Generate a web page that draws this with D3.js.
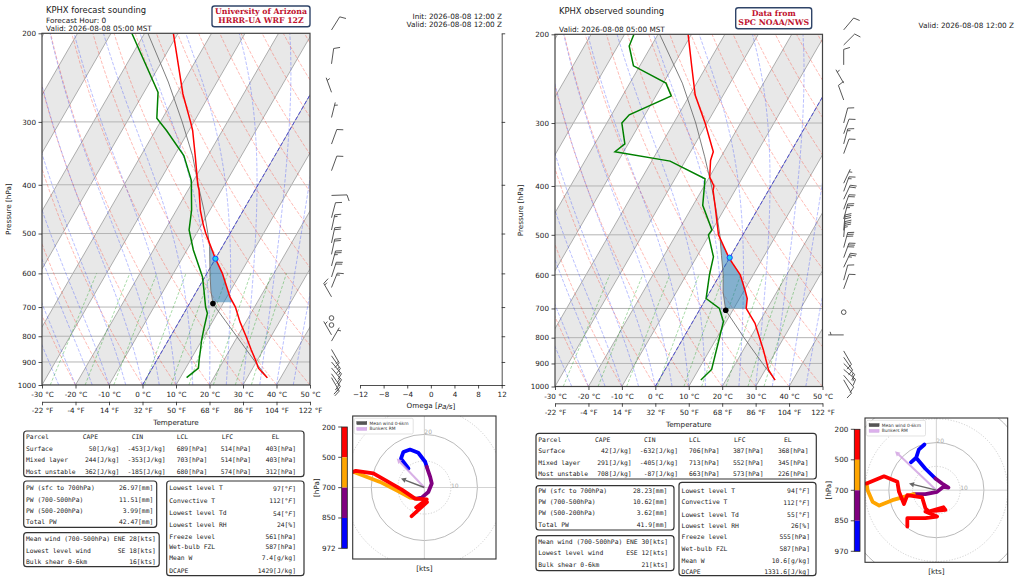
<!DOCTYPE html>
<html>
<head>
<meta charset="utf-8">
<script src="https://cdn.jsdelivr.net/npm/d3@7"></script>
<style>
  body { margin: 0; background: #fff; }
</style>
</head>
<body>
<svg id="chart" width="1024" height="580"></svg>
<script>
// ---------- axis ticks ----------
const pressureTicks = [200, 300, 400, 500, 600, 700, 800, 900, 1000];
const tempTicks = [-30, -20, -10, 0, 10, 20, 30, 40, 50];
const fahrLabels = ['-22 °F', '-4 °F', '14 °F', '32 °F', '50 °F', '68 °F', '86 °F', '104 °F', '122 °F'];
const omegaTicks = [-12, -8, -4, 0, 4, 8, 12];

// background reference lines
const dryAdiabatStarts = [-30, -20, -10, 0, 10, 20, 30, 40, 50, 60, 70, 80, 90, 100, 110, 120, 130, 140, 150];
const moistAdiabatStarts = [-30, -25, -20, -15, -10, -5, 0, 5, 10, 15, 20, 25, 30, 35, 40, 45, 50];
const mixingRatios = [0.0004, 0.001, 0.002, 0.004, 0.007, 0.01, 0.016, 0.024, 0.032];

// ---------- forecast sounding (HRRR) ----------
const fcstPres = [967, 950, 926, 900, 850, 800, 750, 700, 668, 600, 561, 500, 481, 450, 410, 400, 350, 312, 300, 264, 230, 200];
const fcstTemp = [36.0, 34.2, 31.7, 30.0, 26.3, 22.5, 18.3, 14.3, 10.9, 4.6, 0.0, -7.2, -9.4, -12.8, -16.7, -18.0, -23.8, -28.9, -31.0, -38.1, -44.7, -51.4];
const fcstDewpPres = [967, 926, 892, 850, 814, 772, 720, 700, 648, 610, 539, 492, 449, 392, 350, 312, 295, 262, 200];
const fcstDewp = [11.9, 13.8, 12.6, 11.2, 9.9, 8.6, 7.0, 5.4, 2.0, -0.7, -8.1, -12.8, -15.5, -20.7, -27.2, -36.7, -41.7, -45.8, -63.8];
const fcstParcelPres = [967, 900, 800, 700, 689, 650, 603, 531, 500, 450, 403, 350, 300, 250, 200];
const fcstParcelTemp = [36.0, 29.7, 19.7, 8.3, 7.0, 4.2, 1.1, -3.8, -6.6, -11.7, -17.5, -24.6, -33.5, -44.5, -59.0];
const fcstLcl = [689, 7.0];
const fcstFreeze = [561, 0.0];

const fcstBarbPres = [197, 230, 262, 294, 332, 375, 420, 465, 492, 522, 550, 580, 610, 640, 668, 736, 760, 795, 818, 850, 875, 900, 925, 950, 967];
const fcstBarbDir = [32, 8, 340, 14, 20, 20, 88, 15, 12, 12, 12, 15, 18, 22, 330, 0, 0, 330, 30, 150, 145, 140, 140, 145, 150];
const fcstBarbSpd = [10, 10, 5, 5, 10, 10, 10, 10, 15, 20, 20, 25, 20, 15, 15, 0, 0, 5, 5, 15, 15, 15, 20, 20, 20];

const fcstHodoU = [-6.0, -8.8, -7.9, -5.4, -2.3, 0.3, 0.9, 2.2, 2.8, 1.5, -1.0, -2.9, -5.4, -9.2, -16.7, -26.8, -25.8, -19.2, -8.5, -3.5, 0.9, -3.1, 1.0, -4.8];
const fcstHodoV = [7.2, 10.9, 13.4, 14.3, 13.1, 9.7, 7.8, 4.0, 1.5, -1.7, -3.8, -4.2, -3.8, -1.7, 2.1, 5.9, 6.3, 5.3, -0.8, -4.2, -4.5, -7.5, -5.5, -10.8];
const fcstHodoP = [967, 950, 930, 910, 890, 870, 855, 820, 790, 760, 730, 705, 680, 640, 580, 510, 480, 440, 400, 360, 320, 280, 240, 200];
const fcstMeanWind = [-8.8, 3.4];
const fcstBunkers = [-10.4, 10.9];
const fcstHodoLevels = [200, 500, 700, 850, 972];

// ---------- observed sounding (SPC) ----------
const obsPres = [971, 927, 846, 749, 700, 669, 644, 600, 557, 500, 440, 408, 400, 384, 356, 342, 300, 264, 232, 200];
const obsTemp = [34.7, 31.0, 26.0, 18.9, 13.7, 12.3, 10.2, 6.1, 0.0, -7.3, -13.1, -16.6, -17.1, -19.9, -22.5, -23.2, -30.6, -38.4, -44.3, -51.0];
const obsDewpPres = [971, 925, 744, 700, 669, 600, 553, 500, 489, 437, 408, 387, 357, 342, 330, 300, 289, 265, 250, 231, 211, 200];
const obsDewp = [12.5, 13.9, 9.2, 5.7, 0.0, -3.1, -5.0, -10.3, -10.1, -17.1, -19.3, -21.0, -34.5, -52.6, -51.0, -55.5, -54.7, -45.4, -49.2, -61.9, -66.6, -67.2];
const obsParcelPres = [971, 900, 800, 706, 650, 600, 550, 500, 450, 400, 350, 300, 250, 200];
const obsParcelTemp = [34.7, 28.1, 18.1, 7.9, 4.0, 1.0, -2.8, -6.9, -11.9, -17.8, -24.9, -33.4, -44.3, -59.5];
const obsLcl = [706, 7.9];
const obsFreeze = [555, 0.0];

const obsBarbPres = [196, 210, 230, 250, 270, 300, 315, 330, 345, 395, 410, 425, 445, 465, 490, 505, 530, 555, 580, 615, 640, 712, 790, 850, 875, 900, 925, 950, 970];
const obsBarbDir = [40, 45, 0, 330, 340, 15, 20, 15, 20, 25, 20, 25, 20, 15, 5, 5, 15, 20, 25, 15, 20, 0, 270, 150, 145, 135, 130, 140, 150];
const obsBarbSpd = [10, 10, 10, 5, 10, 10, 10, 15, 10, 5, 15, 20, 20, 25, 30, 35, 30, 30, 25, 10, 10, 0, 5, 10, 12, 15, 15, 12, 10];

const obsHodoU = [-10.7, -8.5, -7.4, -5.0, -7.4, -8.5, -4.6, -0.4, 2.4, 5.1, 3.0, 0.3, -4.6, -9.5, -18.5, -24.0, -26.8, -28.9, -29.3, -22.0, -16.4, -15.7, -13.6, -12.2, -9.5, -6.0, -4.6, -3.2, 3.0, 3.8, -4.6, 0.3, -4.6, -12.2, -12.2];
const obsHodoV = [11.7, 13.6, 17.0, 19.2, 17.0, 13.6, 9.0, 4.9, 2.8, 1.1, 1.4, -0.7, -1.7, -1.7, -4.2, -6.5, -4.9, 0.0, 2.8, 5.8, 3.5, -0.7, -5.8, -2.1, -2.5, -3.0, -7.6, -9.0, -7.2, -8.3, -9.0, -11.1, -11.8, -11.8, -15.3];
const obsHodoP = [970, 955, 940, 925, 910, 895, 875, 855, 830, 800, 775, 750, 725, 705, 660, 620, 580, 540, 505, 490, 470, 450, 430, 410, 390, 370, 350, 330, 310, 290, 270, 250, 230, 215, 200];
const obsMeanWind = [-11.5, 2.8];
const obsBunkers = [-17.4, 16.4];
const obsHodoLevels = [200, 500, 700, 850, 970];

const hodoColors = ['red', 'orange', 'purple', 'blue'];
const hodoRings = [10, 20, 30, 40];

// ---------- tables ----------
const parcelHeader = ['Parcel', 'CAPE', 'CIN', 'LCL', 'LFC', 'EL'];
const fcstParcelRows = [
  ['Surface', '50[J/kg]', '-453[J/kg]', '689[hPa]', '514[hPa]', '403[hPa]'],
  ['Mixed layer', '244[J/kg]', '-353[J/kg]', '703[hPa]', '514[hPa]', '403[hPa]'],
  ['Most unstable', '362[J/kg]', '-185[J/kg]', '680[hPa]', '574[hPa]', '312[hPa]']
];
const fcstPwRows = [['PW (sfc to 700hPa)', '26.97[mm]'], ['PW (700-500hPa)', '11.51[mm]'], ['PW (500-200hPa)', '3.99[mm]'], ['Total PW', '42.47[mm]']];
const fcstWindRows = [['Mean wind (700-500hPa)', 'ENE', '28[kts]'], ['Lowest level wind', 'SE', '18[kts]'], ['Bulk shear 0-6km', '', '16[kts]']];
const fcstIndexRows = [['Lowest level T', '97[°F]'], ['Convective T', '112[°F]'], ['Lowest level Td', '54[°F]'], ['Lowest level RH', '24[%]'],
  ['Freeze level', '561[hPa]'], ['Wet-bulb FZL', '587[hPa]'], ['Mean W', '7.4[g/kg]'], ['DCAPE', '1429[J/kg]']];

const obsParcelRows = [
  ['Surface', '42[J/kg]', '-632[J/kg]', '706[hPa]', '387[hPa]', '368[hPa]'],
  ['Mixed layer', '291[J/kg]', '-405[J/kg]', '713[hPa]', '552[hPa]', '345[hPa]'],
  ['Most unstable', '708[J/kg]', '-87[J/kg]', '663[hPa]', '573[hPa]', '226[hPa]']
];
const obsPwRows = [['PW (sfc to 700hPa)', '28.23[mm]'], ['PW (700-500hPa)', '10.62[mm]'], ['PW (500-200hPa)', '3.62[mm]'], ['Total PW', '41.9[mm]']];
const obsWindRows = [['Mean wind (700-500hPa)', 'ENE', '30[kts]'], ['Lowest level wind', 'ESE', '12[kts]'], ['Bulk shear 0-6km', '', '21[kts]']];
const obsIndexRows = [['Lowest level T', '94[°F]'], ['Convective T', '112[°F]'], ['Lowest level Td', '55[°F]'], ['Lowest level RH', '26[%]'],
  ['Freeze level', '555[hPa]'], ['Wet-bulb FZL', '587[hPa]'], ['Mean W', '10.6[g/kg]'], ['DCAPE', '1331.6[J/kg]']];

// ---------- setup ----------
const svg = d3.select('#chart').attr('font-family', 'DejaVu Sans, sans-serif');
const TAN30 = Math.tan(Math.PI / 6);
const INK = '#1a1a1a';
const MONO = 'DejaVu Sans Mono, monospace';
const lineLevels = d3.range(1000, 199, -10);

function zip(pres, vals) {
  return pres.map((p, i) => ({ p: p, t: vals[i] }));
}

function interpLogP(pres, vals, p) {
  for (let i = 0; i < pres.length - 1; i++) {
    if (p <= pres[i] && p >= pres[i + 1]) {
      const f = (Math.log(pres[i]) - Math.log(p)) / (Math.log(pres[i]) - Math.log(pres[i + 1]));
      return vals[i] + f * (vals[i + 1] - vals[i]);
    }
  }
  return NaN;
}

function moistLapse(tK, p) {
  const Rd = 287.04, Cp = 1005.7, Lv = 2.501e6, eps = 0.622;
  const tc = tK - 273.15;
  const es = 6.112 * Math.exp(17.67 * tc / (tc + 243.5));
  const rs = eps * es / (p - es);
  return (Rd * tK + Lv * rs) / (Cp + (Lv * Lv * rs * eps) / (Rd * tK * tK)) / p;
}

function moistAdiabat(t0) {
  const pts = [];
  let t = t0 + 273.15;
  lineLevels.forEach(p => {
    pts.push({ p: p, t: t - 273.15 });
    const h = -10;
    const k1 = moistLapse(t, p);
    const k2 = moistLapse(t + h * k1 / 2, p + h / 2);
    const k3 = moistLapse(t + h * k2 / 2, p + h / 2);
    const k4 = moistLapse(t + h * k3, p + h);
    t += h * (k1 + 2 * k2 + 2 * k3 + k4) / 6;
  });
  return pts;
}

function text(g, x, y, str, size, anchor) {
  return g.append('text')
    .attr('x', x)
    .attr('y', y)
    .attr('font-size', size)
    .attr('fill', INK)
    .attr('text-anchor', anchor || 'start')
    .attr('dominant-baseline', 'central')
    .text(str);
}

// ---------- wind barbs ----------
function drawBarbs(g, bx, y, pres, dirs, spds) {
  const L = 15.5, spacing = 0.125 * L, fh = 0.4 * L, fw = 0.25 * L;
  pres.forEach((p, i) => {
    const by = y(p);
    const s = Math.round(spds[i] / 5) * 5;
    if (s === 0) {
      g.append('circle')
        .attr('cx', bx)
        .attr('cy', by)
        .attr('r', 0.15 * L)
        .attr('fill', 'none')
        .attr('stroke', '#444')
        .attr('stroke-width', 0.9);
      return;
    }
    const a = dirs[i] * Math.PI / 180;
    const ux = Math.sin(a), uy = -Math.cos(a);
    const px = Math.cos(a), py = Math.sin(a);
    const at = (o, h) => [bx + ux * o + px * h, by + uy * o + py * h];
    const path = d3.path();
    path.moveTo(...at(0, 0));
    path.lineTo(...at(L, 0));
    let offset = L;
    const nfull = Math.floor(s / 10);
    const half = s % 10 >= 5;
    for (let k = 0; k < nfull; k++) {
      path.moveTo(...at(offset, 0));
      path.lineTo(...at(offset + fw / 2, fh));
      offset -= spacing;
    }
    if (half) {
      if (offset === L) offset -= 1.5 * spacing;
      path.moveTo(...at(offset, 0));
      path.lineTo(...at(offset + fw / 4, fh / 2));
    }
    g.append('path')
      .attr('d', path.toString())
      .attr('fill', 'none')
      .attr('stroke', '#444')
      .attr('stroke-width', 0.9);
  });
}

// ---------- skew-T panel ----------
function drawSkewT(cfg, snd) {
  const x = d3.scaleLinear().domain([-30, 50]).range([cfg.x0, cfg.x1]);
  const y = d3.scaleLog().domain([1000, 200]).range([cfg.yBot, cfg.yTop]);
  const sx = (t, p) => x(t) + (cfg.yBot - y(p)) * TAN30;
  const line = d3.line().x(d => sx(d.t, d.p)).y(d => y(d.p));
  const dx = (cfg.yBot - cfg.yTop) * TAN30;

  svg.append('clipPath')
    .attr('id', 'clip-' + cfg.id)
    .append('rect')
    .attr('x', cfg.x0)
    .attr('y', cfg.yTop)
    .attr('width', cfg.x1 - cfg.x0)
    .attr('height', cfg.yBot - cfg.yTop);

  const plot = svg.append('g').attr('clip-path', 'url(#clip-' + cfg.id + ')');

  // alternating isotherm bands
  d3.range(-120, 50, 20).forEach(t => {
    plot.append('path')
      .attr('d', 'M' + x(t) + ',' + cfg.yBot + 'L' + x(t + 10) + ',' + cfg.yBot +
        'L' + (x(t + 10) + dx) + ',' + cfg.yTop + 'L' + (x(t) + dx) + ',' + cfg.yTop + 'Z')
      .attr('fill', '#e8e8e8');
  });

  // isotherms (skewed x grid)
  d3.range(-120, 51, 10).forEach(t => {
    plot.append('line')
      .attr('x1', x(t)).attr('y1', cfg.yBot)
      .attr('x2', x(t) + dx).attr('y2', cfg.yTop)
      .attr('stroke', '#9a9a9a')
      .attr('stroke-width', 0.8);
  });

  // pressure grid
  pressureTicks.forEach(p => {
    plot.append('line')
      .attr('x1', cfg.x0).attr('x2', cfg.x1)
      .attr('y1', y(p)).attr('y2', y(p))
      .attr('stroke', '#b4b4b4')
      .attr('stroke-width', 1);
  });

  // dry adiabats
  dryAdiabatStarts.forEach(t0 => {
    const pts = lineLevels.map(p => ({ p: p, t: (t0 + 273.15) * Math.pow(p / 1000, 0.2857) - 273.15 }));
    plot.append('path')
      .attr('d', line(pts))
      .attr('fill', 'none')
      .attr('stroke', 'rgba(255,60,40,0.38)')
      .attr('stroke-width', 0.9)
      .attr('stroke-dasharray', '3.5,1.6');
  });

  // moist adiabats
  moistAdiabatStarts.forEach(t0 => {
    plot.append('path')
      .attr('d', line(moistAdiabat(t0)))
      .attr('fill', 'none')
      .attr('stroke', 'rgba(40,60,255,0.36)')
      .attr('stroke-width', 0.9)
      .attr('stroke-dasharray', '3.5,1.6');
  });

  // mixing ratio lines
  mixingRatios.forEach(w => {
    const pts = d3.range(1000, 599, -20).map(p => {
      const e = p * w / (0.622 + w);
      const l = Math.log(e / 6.112);
      return { p: p, t: 243.5 * l / (17.67 - l) };
    });
    plot.append('path')
      .attr('d', line(pts))
      .attr('fill', 'none')
      .attr('stroke', 'rgba(0,150,0,0.38)')
      .attr('stroke-width', 0.9)
      .attr('stroke-dasharray', '3,1.8');
  });

  // 0 degC isotherm
  plot.append('path')
    .attr('d', line([{ p: 1000, t: 0 }, { p: 200, t: 0 }]))
    .attr('stroke', '#4b4bd6')
    .attr('stroke-width', 1)
    .attr('stroke-dasharray', '4,2');

  // CIN shading between parcel and environment
  const shade = [];
  for (let p = cfg.shadeBottom; p > 400; p -= 1) {
    const te = interpLogP(snd.pres, snd.temp, p);
    const tp = interpLogP(snd.parcelPres, snd.parcelTemp, p);
    shade.push({ p: p, te: te, tp: Math.min(tp, te) });
    if (te <= tp) break;
  }
  plot.append('path')
    .attr('d', d3.area().x0(d => sx(d.tp, d.p)).x1(d => sx(d.te, d.p)).y(d => y(d.p))(shade))
    .attr('fill', 'rgba(31,119,180,0.5)');

  // parcel, temperature, dewpoint
  plot.append('path')
    .attr('d', line(zip(snd.parcelPres, snd.parcelTemp)))
    .attr('fill', 'none')
    .attr('stroke', '#6f6f6f')
    .attr('stroke-width', 0.9);
  plot.append('path')
    .attr('d', line(zip(snd.pres, snd.temp)))
    .attr('fill', 'none')
    .attr('stroke', '#ff0000')
    .attr('stroke-width', 1.5);
  plot.append('path')
    .attr('d', line(zip(snd.dewpPres, snd.dewp)))
    .attr('fill', 'none')
    .attr('stroke', '#008000')
    .attr('stroke-width', 1.5);

  // LCL and freezing level markers
  plot.append('circle')
    .attr('cx', sx(snd.lcl[1], snd.lcl[0]))
    .attr('cy', y(snd.lcl[0]))
    .attr('r', 2.8)
    .attr('fill', '#000');
  plot.append('circle')
    .attr('cx', sx(snd.freeze[1], snd.freeze[0]))
    .attr('cy', y(snd.freeze[0]))
    .attr('r', 2.6)
    .attr('fill', '#19d3f0')
    .attr('stroke', '#2040ff')
    .attr('stroke-width', 1);

  // frame
  svg.append('rect')
    .attr('x', cfg.x0).attr('y', cfg.yTop)
    .attr('width', cfg.x1 - cfg.x0).attr('height', cfg.yBot - cfg.yTop)
    .attr('fill', 'none')
    .attr('stroke', '#444')
    .attr('stroke-width', 1.2);

  // axes
  const yAxis = svg.append('g')
    .attr('transform', 'translate(' + cfg.x0 + ',0)')
    .call(d3.axisLeft(y).tickValues(pressureTicks).tickFormat(d3.format('d')).tickSize(3.5).tickPadding(2.5));
  const xAxis = svg.append('g')
    .attr('transform', 'translate(0,' + cfg.yBot + ')')
    .call(d3.axisBottom(x).tickValues(tempTicks).tickFormat(d => d + ' °C').tickSize(3.5).tickPadding(3.5));
  const fAxis = svg.append('g')
    .attr('transform', 'translate(0,' + (cfg.yBot + 16.8) + ')')
    .call(d3.axisBottom(x).tickValues(tempTicks).tickFormat((d, i) => fahrLabels[i]).tickSize(3.5).tickSizeOuter(0).tickPadding(3));
  [yAxis, xAxis].forEach(a => a.select('.domain').remove());
  [yAxis, xAxis, fAxis].forEach(a => {
    a.attr('font-family', 'DejaVu Sans, sans-serif').attr('font-size', 7.2);
    a.selectAll('line, path').attr('stroke', '#222').attr('stroke-width', 0.8);
    a.selectAll('text').attr('fill', INK);
  });

  text(svg, (cfg.x0 + cfg.x1) / 2, cfg.yBot + 37.5, 'Temperature', 7.2, 'middle');
  text(svg, 0, 0, 'Pressure [hPa]', 7.2, 'middle')
    .attr('transform', 'translate(' + cfg.ylabelX + ',' + ((cfg.yTop + cfg.yBot) / 2) + ') rotate(-90)');

  // wind barbs
  drawBarbs(svg.append('g'), cfg.barbX, y, snd.barbPres, snd.barbDir, snd.barbSpd);

  // titles
  text(svg, cfg.titleX, cfg.titleY, cfg.title, 8.4);
  cfg.subtitles.forEach(s => text(svg, cfg.titleX, s[1], s[0], 7.3));
  cfg.rightNotes.forEach(s => text(svg, cfg.noteX, s[1], s[0], 7.3, 'end'));

  // credit box
  const b = cfg.credit;
  svg.append('rect')
    .attr('x', b.x).attr('y', b.y).attr('width', b.w).attr('height', b.h)
    .attr('rx', 2.5)
    .attr('fill', '#fff')
    .attr('stroke', '#2f4468')
    .attr('stroke-width', 1.4);
  b.lines.forEach((s, i) => {
    text(svg, b.x + b.w / 2, b.y + 5.8 + i * 8.9, s, 7.8, 'middle')
      .attr('font-family', 'DejaVu Serif, serif')
      .attr('font-weight', 'bold')
      .attr('fill', '#c0112e');
  });

  return y;
}

// ---------- omega panel (forecast only) ----------
function drawOmega(yP) {
  const x = d3.scaleLinear().domain([-12, 12]).range([360, 501.7]);
  const bottom = svg.append('g')
    .attr('transform', 'translate(0,385)')
    .call(d3.axisBottom(x).tickValues(omegaTicks).tickFormat(d => (d < 0 ? '\u2212' : '') + Math.abs(d)).tickSize(3.5).tickSizeOuter(0).tickPadding(3));
  const right = svg.append('g')
    .attr('transform', 'translate(501.7,0)')
    .call(d3.axisRight(yP).tickValues(pressureTicks).tickFormat('').tickSize(3.5).tickSizeOuter(0));
  [bottom, right].forEach(a => {
    a.attr('font-family', 'DejaVu Sans, sans-serif').attr('font-size', 7.2);
    a.selectAll('line, path').attr('stroke', '#222').attr('stroke-width', 0.8);
    a.selectAll('text').attr('fill', INK);
  });
  const lab = text(svg, 431, 405.5, 'Omega [', 7.2, 'middle');
  lab.append('tspan').attr('font-style', 'italic').text('Pa/s');
  lab.append('tspan').text(']');
}

// ---------- hodograph ----------
function drawHodo(h, hd) {
  const k = (h.x1 - h.x0) / (2 * h.range);
  const cyMid = (h.y0 + h.y1) / 2;
  const u = d3.scaleLinear().domain([-h.range, h.range]).range([h.x0, h.x1]);
  const v = d3.scaleLinear().domain([-h.range, h.range]).range([cyMid + h.range * k, cyMid - h.range * k]);
  const cx = u(0), cy = v(0);

  svg.append('clipPath')
    .attr('id', 'hclip-' + h.id)
    .append('rect')
    .attr('x', h.x0).attr('y', h.y0)
    .attr('width', h.x1 - h.x0).attr('height', h.y1 - h.y0);
  const g = svg.append('g').attr('clip-path', 'url(#hclip-' + h.id + ')');

  hodoRings.forEach(r => {
    g.append('circle')
      .attr('cx', cx).attr('cy', cy).attr('r', r * k)
      .attr('fill', 'none')
      .attr('stroke', r % 20 ? '#c4c4c4' : '#a8a8a8')
      .attr('stroke-width', 0.8)
      .attr('stroke-dasharray', r % 20 ? '1.2,1.6' : null);
  });
  g.append('line').attr('x1', h.x0).attr('x2', h.x1).attr('y1', cy).attr('y2', cy).attr('stroke', '#c8c8c8').attr('stroke-width', 0.8);
  g.append('line').attr('x1', cx).attr('x2', cx).attr('y1', h.y0).attr('y2', h.y1).attr('stroke', '#c8c8c8').attr('stroke-width', 0.8);
  text(g, cx + 10 * k, cy - 2.5, '10', 6, 'start').attr('fill', '#aaa');
  text(g, cx, cy - 20 * k - 2.5, '20', 6, 'start').attr('fill', '#aaa');

  // trace coloured by pressure layer
  const bin = p => p > 850 ? 3 : p > 700 ? 2 : p > 500 ? 1 : 0;
  const groups = [];
  hd.p.forEach((p, i) => {
    const pt = [u(hd.u[i]), v(hd.v[i])];
    const last = groups[groups.length - 1];
    if (!last || last.bin !== bin(p)) {
      const start = last ? [last.pts[last.pts.length - 1]] : [];
      groups.push({ bin: bin(p), pts: start.concat([pt]) });
    } else {
      last.pts.push(pt);
    }
  });
  groups.forEach(gr => {
    g.append('path')
      .attr('d', d3.line()(gr.pts))
      .attr('fill', 'none')
      .attr('stroke', hodoColors[gr.bin])
      .attr('stroke-width', 3.8)
      .attr('stroke-linejoin', 'round')
      .attr('stroke-linecap', 'round');
  });

  // arrows from the origin
  const arrow = (vec, color, w, op) => {
    const x2 = u(vec[0]), y2 = v(vec[1]);
    const ang = Math.atan2(y2 - cy, x2 - cx);
    const hl = 5, hw = 2.6;
    const bx = x2 - Math.cos(ang) * hl, by = y2 - Math.sin(ang) * hl;
    g.append('line')
      .attr('x1', cx).attr('y1', cy).attr('x2', bx).attr('y2', by)
      .attr('stroke', color).attr('stroke-width', w).attr('opacity', op);
    g.append('path')
      .attr('d', 'M' + x2 + ',' + y2 + 'L' + (bx - Math.sin(ang) * hw) + ',' + (by + Math.cos(ang) * hw) +
        'L' + (bx + Math.sin(ang) * hw) + ',' + (by - Math.cos(ang) * hw) + 'Z')
      .attr('fill', color).attr('opacity', op);
  };
  arrow(hd.bunkers, '#cf9ee0', 2, 0.8);
  arrow(hd.mean, '#555', 1.4, 0.9);

  // legend
  const lg = svg.append('g').attr('transform', 'translate(' + (h.x0 + 1.5) + ',' + (h.y0 + 2.3) + ')');
  lg.append('rect').attr('width', 59).attr('height', 15.7).attr('rx', 1.5)
    .attr('fill', 'rgba(255,255,255,0.85)').attr('stroke', '#d0d0d0').attr('stroke-width', 0.6);
  [['Mean wind 0-6km', '#555'], ['Bunkers RM', '#dcb0ec']].forEach((e, i) => {
    lg.append('rect').attr('x', 2.6).attr('y', 3.3 + i * 5.8).attr('width', 10).attr('height', 3)
      .attr('fill', e[1]).attr('stroke', i ? '#c9a0dc' : '#333').attr('stroke-width', 0.4);
    text(lg, 15.3, 4.8 + i * 5.8, e[0], 4.4).attr('fill', '#333');
  });

  svg.append('rect')
    .attr('x', h.x0).attr('y', h.y0)
    .attr('width', h.x1 - h.x0).attr('height', h.y1 - h.y0)
    .attr('fill', 'none')
    .attr('stroke', '#333')
    .attr('stroke-width', 1.1);
  text(svg, cx, h.y1 + 9, '[kts]', 7.2, 'middle');

  // pressure colour bar
  const cb = d3.scaleLinear().domain([0, 4]).range([h.cbTop, h.cbBot]);
  hodoColors.forEach((c, i) => {
    svg.append('rect')
      .attr('x', h.cbX).attr('y', cb(i))
      .attr('width', h.cbW).attr('height', cb(i + 1) - cb(i))
      .attr('fill', c);
  });
  svg.append('rect')
    .attr('x', h.cbX).attr('y', h.cbTop)
    .attr('width', h.cbW).attr('height', h.cbBot - h.cbTop)
    .attr('fill', 'none').attr('stroke', '#222').attr('stroke-width', 0.8);
  hd.levels.forEach((lv, i) => {
    svg.append('line')
      .attr('x1', h.cbX - 3.5).attr('x2', h.cbX)
      .attr('y1', cb(i)).attr('y2', cb(i))
      .attr('stroke', '#222').attr('stroke-width', 0.8);
    text(svg, h.cbX - 6, cb(i), lv, 7.2, 'end');
  });
  text(svg, 0, 0, '[hPa]', 7.2, 'middle')
    .attr('transform', 'translate(' + h.hpaX + ',' + ((h.cbTop + h.cbBot) / 2) + ') rotate(-90)');
}

// ---------- text tables ----------
function box(x, y, w, h) {
  svg.append('rect')
    .attr('x', x).attr('y', y).attr('width', w).attr('height', h)
    .attr('rx', 3)
    .attr('fill', '#fff')
    .attr('stroke', '#333')
    .attr('stroke-width', 1.2);
}

function mono(x, y, str, anchor) {
  const t = text(svg, x, y, '', 6.35, anchor).attr('font-family', MONO);
  const m = /^(.*\[)°F(\])$/.exec(str);
  if (m) {
    t.append('tspan').text(m[1] + '°');
    t.append('tspan').attr('font-style', 'italic').text('F');
    t.append('tspan').text(']');
  } else {
    t.text(str);
  }
  return t;
}

function drawTables(t, rows) {
  const p = t.parcel;
  box(p.x, p.y, 280.3, p.h);
  const hdrX = [2.3, 59, 108, 153, 198, 248];
  const valX = [95.6, 142, 183.6, 227.5, 272.5];
  parcelHeader.forEach((s, i) => mono(p.x + hdrX[i], p.rows[0], s, 'start'));
  rows.parcel.forEach((r, j) => {
    mono(p.x + 2.3, p.rows[j + 1], r[0], 'start');
    r.slice(1).forEach((s, i) => mono(p.x + valX[i], p.rows[j + 1], s, 'end'));
  });

  const pw = t.pw;
  box(pw.x, pw.y, pw.w, pw.h);
  rows.pw.forEach((r, j) => {
    mono(pw.x + 2.3, pw.rows[j], r[0], 'start');
    mono(pw.valX, pw.rows[j], r[1], 'end');
  });

  const wd = t.wind;
  box(wd.x, wd.y, wd.w, wd.h);
  rows.wind.forEach((r, j) => {
    mono(wd.x + 2.3, wd.rows[j], r[0], 'start');
    mono(wd.dirX, wd.rows[j], r[1], 'end');
    mono(wd.valX, wd.rows[j], r[2], 'end');
  });

  const ix = t.index;
  box(ix.x, ix.y, ix.w, ix.h);
  rows.index.forEach((r, j) => {
    mono(ix.x + 2.6, ix.rows[j], r[0], 'start');
    mono(ix.valX, ix.rows[j], r[1], 'end');
  });
}

// ---------- build ----------
const fcstY = drawSkewT({
  id: 'f', x0: 42, x1: 310, yTop: 33.3, yBot: 385, barbX: 331.5, ylabelX: 8, shadeBottom: 685,
  title: 'KPHX forecast sounding', titleX: 46, titleY: 10,
  subtitles: [['Forecast Hour: 0', 20], ['Valid: 2026-08-08 05:00 MST', 28]],
  noteX: 502, rightNotes: [['Init: 2026-08-08 12:00 Z', 16], ['Valid: 2026-08-08 12:00 Z', 24.3]],
  credit: { x: 212, y: 6, w: 98, h: 20.7, lines: ['University of Arizona', 'HRRR-UA WRF 12Z'] }
}, {
  pres: fcstPres, temp: fcstTemp, dewpPres: fcstDewpPres, dewp: fcstDewp,
  parcelPres: fcstParcelPres, parcelTemp: fcstParcelTemp, lcl: fcstLcl, freeze: fcstFreeze,
  barbPres: fcstBarbPres, barbDir: fcstBarbDir, barbSpd: fcstBarbSpd
});
drawOmega(fcstY);

drawSkewT({
  id: 'o', x0: 555, x1: 822.5, yTop: 34.3, yBot: 386.5, barbX: 843.7, ylabelX: 520, shadeBottom: 700,
  title: 'KPHX observed sounding', titleX: 559, titleY: 11,
  subtitles: [['Valid: 2026-08-08 05:00 MST', 29.3]],
  noteX: 1014, rightNotes: [['Valid: 2026-08-08 12:00 Z', 25]],
  credit: { x: 735.7, y: 7.7, w: 76, h: 21, lines: ['Data from', 'SPC NOAA/NWS'] }
}, {
  pres: obsPres, temp: obsTemp, dewpPres: obsDewpPres, dewp: obsDewp,
  parcelPres: obsParcelPres, parcelTemp: obsParcelTemp, lcl: obsLcl, freeze: obsFreeze,
  barbPres: obsBarbPres, barbDir: obsBarbDir, barbSpd: obsBarbSpd
});

drawHodo({ id: 'f', x0: 352.7, x1: 496, y0: 416, y1: 559, range: 27, cbX: 341.7, cbW: 5.6, cbTop: 427, cbBot: 548.3, hpaX: 316 },
  { u: fcstHodoU, v: fcstHodoV, p: fcstHodoP, mean: fcstMeanWind, bunkers: fcstBunkers, levels: fcstHodoLevels });
drawHodo({ id: 'o', x0: 865, x1: 1007.7, y0: 418, y1: 562.3, range: 30, cbX: 854.3, cbW: 5.7, cbTop: 429.3, cbBot: 551.3, hpaX: 828.5 },
  { u: obsHodoU, v: obsHodoV, p: obsHodoP, mean: obsMeanWind, bunkers: obsBunkers, levels: obsHodoLevels });

drawTables({
  parcel: { x: 23.7, y: 431, h: 45.7, rows: [436, 448, 459.3, 471.3] },
  pw: { x: 23.7, y: 481, w: 133, h: 46.3, valX: 153.3, rows: [487.7, 499.3, 510, 521.7] },
  wind: { x: 23.7, y: 532.7, w: 135.5, h: 34, dirX: 125.3, valX: 155.9, rows: [538.3, 550, 561.7] },
  index: { x: 166.7, y: 481, w: 137.3, h: 94.7, valX: 296, rows: [487.7, 500, 512.7, 524.3, 536, 546.7, 557.7, 570] }
}, { parcel: fcstParcelRows, pw: fcstPwRows, wind: fcstWindRows, index: fcstIndexRows });

drawTables({
  parcel: { x: 536, y: 433.3, h: 45.7, rows: [439, 450.7, 462.3, 473.3] },
  pw: { x: 536, y: 485.7, w: 138, h: 44.3, valX: 667.3, rows: [490.7, 501, 512.3, 524] },
  wind: { x: 536, y: 535.7, w: 138, h: 35, dirX: 637.7, valX: 668.2, rows: [541.7, 552.7, 564.3] },
  index: { x: 679, y: 482.3, w: 137, h: 93.4, valX: 810, rows: [490, 501.7, 514, 525, 536.7, 548.3, 560, 571.7] }
}, { parcel: obsParcelRows, pw: obsPwRows, wind: obsWindRows, index: obsIndexRows });
</script>
</body>
</html>
